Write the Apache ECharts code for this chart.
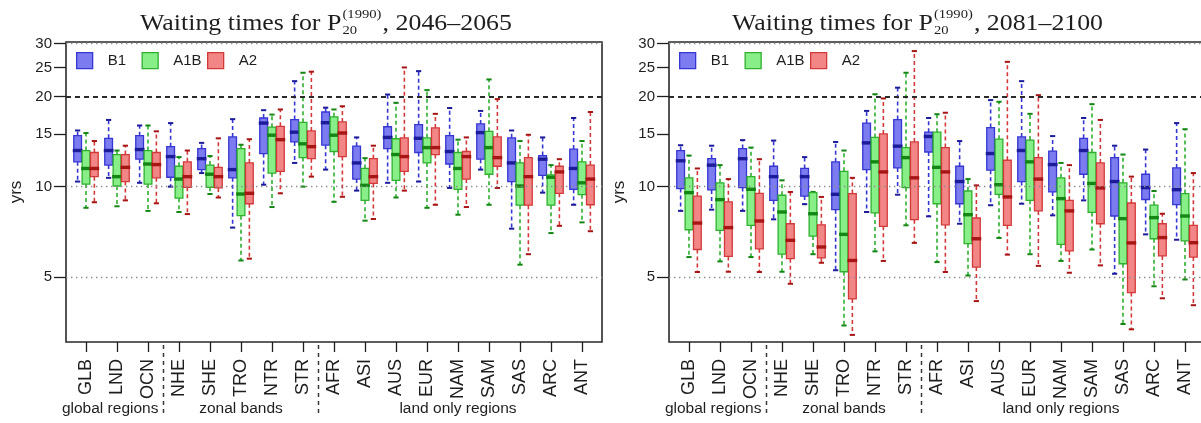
<!DOCTYPE html>
<html>
<head>
<meta charset="utf-8">
<script src="https://cdn.jsdelivr.net/npm/echarts@6/dist/echarts.min.js"></script>
<style>
  html, body { margin: 0; padding: 0; background: #ffffff; }
  #main { width: 1201px; height: 423px; }
</style>
</head>
<body>
<div id="main"></div>
<script>
// Regions (x categories), scenarios and y ticks
const regions = ['GLB', 'LND', 'OCN', 'NHE', 'SHE', 'TRO', 'NTR', 'STR', 'AFR',
                 'ASI', 'AUS', 'EUR', 'NAM', 'SAM', 'SAS', 'ARC', 'ANT'];
const scenarios = ['B1', 'A1B', 'A2'];
const yTicks = [5, 10, 15, 20, 25, 30];
const groupNames = ['global regions', 'zonal bands', 'land only regions'];
const groupCentres = [0.78, 5, 12];      // region index under each group caption
const groupBreaks = [2.5, 7.5];          // dashed separators between groups
const periods = ['2046–2065', '2081–2100'];

// Box statistics per region: [lower whisker, Q1, median, Q3, upper whisker] (years)
const b1Mid = [
  [10.4, 12.1, 13.2, 14.8, 15.4], [10.7, 11.8, 13.2, 14.5, 16.7], [10.3, 12.35, 13.3, 14.8, 16.0],
  [10.0, 10.75, 12.6, 13.6, 16.3], [11.1, 11.4, 12.4, 13.4, 14.0], [7.3, 10.7, 11.4, 14.65, 16.8],
  [10.15, 12.9, 16.3, 16.95, 18.0], [12.0, 14.1, 15.2, 16.75, 22.5], [11.4, 13.75, 16.35, 17.75, 18.35],
  [9.7, 10.6, 12.0, 13.65, 14.6], [10.3, 13.4, 14.6, 15.85, 20.3], [10.4, 13.0, 14.5, 16.1, 24.3],
  [9.9, 11.9, 13.1, 14.8, 18.3], [11.4, 12.35, 15.15, 16.2, 17.9], [7.24, 10.4, 12.0, 14.55, 15.4],
  [9.55, 10.9, 12.35, 12.7, 14.6], [8.7, 9.8, 11.5, 13.35, 16.95]
];
const a1bMid = [
  [8.5, 10.2, 11.5, 13.2, 15.1], [8.6, 10.05, 10.8, 12.8, 13.2], [8.3, 10.2, 11.9, 13.2, 16.0],
  [8.23, 9.15, 10.6, 11.7, 12.55], [9.45, 9.95, 11.0, 11.8, 12.65], [5.67, 8.0, 9.45, 13.4, 13.8],
  [8.55, 11.1, 14.85, 15.8, 17.4], [10.0, 12.5, 13.9, 16.4, 24.0], [8.9, 13.1, 14.85, 17.1, 18.1],
  [7.7, 9.0, 10.1, 11.5, 12.45], [9.2, 10.5, 12.8, 14.45, 19.05], [8.5, 12.0, 13.5, 14.55, 21.0],
  [8.06, 9.8, 11.5, 13.0, 14.35], [8.7, 11.0, 13.5, 15.3, 22.8], [5.49, 8.67, 10.05, 12.0, 14.2],
  [7.0, 8.67, 10.75, 10.95, 11.8], [7.6, 9.4, 10.3, 12.1, 14.2]
];
const a2Mid = [
  [8.87, 10.8, 11.5, 13.0, 14.2], [9.0, 10.4, 11.6, 12.8, 13.7], [8.8, 10.7, 11.85, 13.0, 15.3],
  [8.1, 9.95, 10.8, 12.1, 13.2], [9.2, 9.9, 10.8, 11.6, 14.5], [5.75, 8.77, 9.5, 12.0, 14.4],
  [9.5, 11.25, 14.35, 15.9, 18.1], [10.8, 12.4, 13.6, 15.35, 24.2], [9.25, 12.6, 15.1, 16.45, 18.55],
  [7.8, 10.25, 10.8, 12.4, 13.7], [9.7, 11.25, 12.6, 14.55, 25.0], [8.7, 12.8, 13.5, 15.7, 17.5],
  [8.55, 10.6, 12.6, 13.1, 14.6], [9.9, 11.7, 12.5, 14.65, 19.6], [5.95, 8.67, 10.8, 12.5, 14.9],
  [7.4, 9.5, 11.2, 11.7, 12.35], [7.1, 8.7, 10.6, 11.8, 17.75]
];
const b1End = [
  [8.3, 9.85, 12.2, 13.2, 13.75], [8.38, 9.75, 11.8, 12.4, 13.7], [8.3, 9.93, 12.4, 13.4, 14.3],
  [7.78, 9.0, 10.8, 11.7, 14.25], [8.74, 9.3, 10.8, 11.5, 12.55], [5.26, 8.38, 9.43, 12.1, 14.1],
  [8.23, 11.4, 14.0, 16.3, 17.9], [9.4, 11.55, 13.65, 16.75, 21.4], [7.96, 13.05, 14.7, 15.2, 16.95],
  [7.52, 8.77, 10.4, 11.7, 14.2], [8.67, 11.35, 12.9, 15.75, 19.45], [8.77, 10.4, 13.2, 14.65, 22.5],
  [8.02, 9.6, 11.85, 13.15, 14.75], [9.0, 11.0, 13.2, 14.5, 16.95], [5.12, 7.98, 10.4, 12.5, 13.7],
  [6.93, 9.06, 9.93, 11.0, 13.3], [6.65, 8.71, 9.77, 11.55, 16.3]
];
const a1bEnd = [
  [5.82, 7.18, 9.55, 10.7, 12.7], [5.63, 7.15, 9.05, 10.3, 11.8], [5.82, 7.43, 9.8, 10.8, 13.5],
  [5.2, 5.95, 8.23, 9.36, 10.5], [5.95, 6.84, 8.12, 9.55, 9.6], [3.44, 5.2, 6.93, 11.25, 13.2],
  [6.08, 8.17, 12.1, 14.6, 20.35], [7.43, 9.93, 12.5, 13.5, 24.0], [5.6, 8.77, 11.6, 15.2, 17.45],
  [5.05, 6.45, 8.06, 9.67, 10.6], [6.74, 9.43, 10.15, 14.4, 19.2], [5.95, 9.0, 12.1, 14.3, 17.5],
  [5.65, 6.42, 9.12, 10.7, 12.0], [6.17, 8.2, 10.25, 13.0, 18.85], [3.48, 5.53, 7.82, 10.3, 12.8],
  [4.65, 6.7, 7.88, 8.67, 9.67], [4.9, 6.59, 7.98, 9.48, 15.55]
];
const a2End = [
  [5.19, 6.17, 7.56, 9.3, 11.5], [5.2, 5.85, 7.3, 8.9, 10.6], [5.19, 6.2, 7.68, 9.5, 12.35],
  [4.74, 5.75, 6.62, 7.52, 9.6], [5.57, 5.78, 6.29, 7.46, 9.24], [3.2, 4.22, 5.67, 9.48, 10.7],
  [5.65, 7.37, 11.2, 15.0, 19.7], [6.49, 7.76, 10.7, 14.1, 28.35], [5.19, 7.46, 11.2, 13.5, 17.65],
  [4.15, 5.39, 6.7, 7.86, 10.1], [5.93, 7.43, 9.24, 12.25, 26.1], [5.44, 8.3, 10.6, 12.5, 20.2],
  [5.16, 6.1, 8.3, 9.0, 11.8], [5.46, 7.52, 9.9, 12.0, 16.7], [3.34, 4.43, 6.49, 8.82, 10.8],
  [4.24, 5.87, 6.76, 7.52, 8.12], [4.02, 5.82, 6.5, 7.43, 11.1]
];

const panelValues = [[b1Mid, a1bMid, a2Mid], [b1End, a1bEnd, a2End]];

// ---- layout & style ----
const SANS = '"Liberation Sans", Arial, sans-serif';
const SERIF = '"Liberation Serif", "Times New Roman", serif';
const INK = '#1e1e1e';
const GRID_LEFT = [66, 669];
const GRID_TOP = 42, GRID_W = 536, GRID_H = 300;
const TITLE_SPAN = [[140, 512], [732, 1103]];
const LEGEND_STEP = 65.5;
const X_PAD = 0.645;
const OFFSETS = [-0.27, 0, 0.27];
const BOX_W = 0.25;
const palette = {
  B1:  { fill: '#7c7cf0', line: '#3636d2', median: '#1c1c9a' },
  A1B: { fill: '#88ee88', line: '#2fb02f', median: '#138613' },
  A2:  { fill: '#f28686', line: '#d23a3a', median: '#a81515' }
};

function boxRenderer(offset, col) {
  return function (params, api) {
    const xc = api.value(0) + offset;
    const lo = api.coord([xc, api.value(1)]);
    const q1 = api.coord([xc, api.value(2)]);
    const md = api.coord([xc, api.value(3)]);
    const q3 = api.coord([xc, api.value(4)]);
    const hi = api.coord([xc, api.value(5)]);
    const xl = api.coord([xc - BOX_W / 2, api.value(3)])[0];
    const xr = api.coord([xc + BOX_W / 2, api.value(3)])[0];
    const x = md[0];
    const cap = 2.6;
    const dash = { stroke: col.line, lineWidth: 1.6, lineDash: [4, 3] };
    const staple = { stroke: col.median, lineWidth: 2 };
    return {
      type: 'group',
      children: [
        { type: 'line', shape: { x1: x, y1: q1[1], x2: x, y2: lo[1] }, style: dash },
        { type: 'line', shape: { x1: x, y1: q3[1], x2: x, y2: hi[1] }, style: dash },
        { type: 'line', shape: { x1: x - cap, y1: lo[1], x2: x + cap, y2: lo[1] }, style: staple },
        { type: 'line', shape: { x1: x - cap, y1: hi[1], x2: x + cap, y2: hi[1] }, style: staple },
        { type: 'rect', shape: { x: xl, y: q3[1], width: xr - xl, height: q1[1] - q3[1] },
          style: { fill: col.fill, stroke: col.line, lineWidth: 1.3 } },
        { type: 'line', shape: { x1: xl - 1, y1: md[1], x2: xr + 1, y2: md[1] },
          style: { stroke: col.median, lineWidth: 3.4 } }
      ]
    };
  };
}

const refLines = {
  silent: true,
  symbol: 'none',
  label: { show: false },
  data: [
    { yAxis: 30, lineStyle: { color: '#8c8c8c', width: 1.4, type: [1.4, 3.6] } },
    { yAxis: 10, lineStyle: { color: '#8c8c8c', width: 1.4, type: [1.4, 3.6] } },
    { yAxis: 5,  lineStyle: { color: '#8c8c8c', width: 1.4, type: [1.4, 3.6] } },
    { yAxis: 20, lineStyle: { color: '#2a2a2a', width: 1.8, type: [5, 4] } }
  ]
};

const grids = [], xAxes = [], yAxes = [], series = [], legends = [];
const xTickValues = regions.map((r, i) => i);

[0, 1].forEach(p => {
  grids.push({
    left: GRID_LEFT[p], top: GRID_TOP, width: GRID_W, height: GRID_H,
    show: true, borderColor: '#2a2a2a', borderWidth: 1.6, backgroundColor: 'transparent',
    outerBoundsMode: 'none'
  });
  xAxes.push({
    type: 'value', gridIndex: p, min: -X_PAD, max: regions.length - 1 + X_PAD,
    axisLine: { show: false, onZero: false },
    splitLine: { show: false },
    axisTick: { show: true, inside: false, customValues: xTickValues, length: 10,
                lineStyle: { color: INK, width: 1.3 } },
    axisLabel: {
      customValues: xTickValues, rotate: 90, margin: 17,
      fontFamily: SANS, fontSize: 18, color: INK,
      formatter: v => regions[Math.round(v)]
    }
  });
  yAxes.push({
    type: 'log', logBase: 10, gridIndex: p, min: 3.03, max: 30.4, position: 'left',
    name: 'yrs', nameLocation: 'middle', nameRotate: 90, nameGap: 41,
    nameTextStyle: { fontFamily: SANS, fontSize: 17, color: INK },
    axisLine: { show: false, onZero: false },
    splitLine: { show: false },
    axisTick: { show: true, inside: false, customValues: yTicks, length: 12,
                lineStyle: { color: INK, width: 1.3 } },
    axisLabel: {
      customValues: yTicks, margin: 14,
      fontFamily: SANS, fontSize: 15, color: INK,
      formatter: v => String(Math.round(v))
    }
  });
  scenarios.forEach((name, s) => {
    const col = palette[name];
    series.push({
      type: 'custom', name: name, xAxisIndex: p, yAxisIndex: p,
      silent: true,
      itemStyle: { color: col.fill, borderColor: col.line },
      data: regions.map((r, i) => [i].concat(panelValues[p][s][i])),
      encode: { x: 0, y: [1, 2, 3, 4, 5] },
      renderItem: boxRenderer(OFFSETS[s], col),
      markLine: s === 0 ? refLines : undefined,
      z: 3
    });
    // one legend entry per scenario, laid out in equal-width columns
    legends.push({
      left: GRID_LEFT[p] + 10 + s * LEGEND_STEP, top: 52, padding: 0,
      itemWidth: 16, itemHeight: 16,
      selectedMode: false,
      icon: 'rect',
      textStyle: { fontFamily: SANS, fontSize: 15, color: INK, padding: [0, 0, 0, 10] },
      data: [{
        name: name,
        itemStyle: { color: col.fill, borderColor: col.line, borderWidth: 1.3 }
      }]
    });
  });
});

const chart = echarts.init(document.getElementById('main'), null, { renderer: 'canvas' });
chart.setOption({
  animation: false,
  backgroundColor: '#ffffff',
  textStyle: { fontFamily: SANS },
  grid: grids, xAxis: xAxes, yAxis: yAxes, legend: legends, series: series
});

// ---- titles, group captions and separators ----
const measure = document.createElement('canvas').getContext('2d');
function textWidth(str, size, family) {
  measure.font = size + 'px ' + family;
  return measure.measureText(str).width;
}

const graphics = [];
[0, 1].forEach(p => {
  // Title: "Waiting times for P_20^(1990), <period>"
  const MAIN = 23, SCRIPT = 13;
  const head = 'Waiting times for P';
  const sup = '(1990)', sub = '20';
  const tail = ', ' + periods[p];
  const wHead = textWidth(head, MAIN, SERIF);
  const wScript = Math.max(textWidth(sup, SCRIPT, SERIF), textWidth(sub, SCRIPT, SERIF));
  const wTail = textWidth(tail, MAIN, SERIF);
  const total = wHead + 1 + wScript + 1 + wTail;
  const span = TITLE_SPAN[p];
  const sx = (span[1] - span[0]) / total;
  // vertical centres of each run (main baseline ~31.5)
  const yMain = 24, ySup = 15, ySub = 30.5;
  const tStyle = (txt, size) => ({ text: txt, fontFamily: SERIF, fontSize: size, fill: INK,
                                   verticalAlign: 'middle', align: 'left' });
  graphics.push({
    type: 'group', x: span[0], y: 0, scaleX: sx, silent: true,
    children: [
      { type: 'text', x: 0, y: yMain, style: tStyle(head, MAIN) },
      { type: 'text', x: wHead + 1, y: ySup, style: tStyle(sup, SCRIPT) },
      { type: 'text', x: wHead + 1, y: ySub, style: tStyle(sub, SCRIPT) },
      { type: 'text', x: wHead + 1 + wScript + 1, y: yMain, style: tStyle(tail, MAIN) }
    ]
  });

  // Group captions under the region labels
  groupNames.forEach((g, k) => {
    const gx = chart.convertToPixel({ xAxisIndex: p }, groupCentres[k]);
    graphics.push({
      type: 'text', x: gx, y: 409, silent: true,
      style: { text: g, fontFamily: SANS, fontSize: 15.5, fill: INK,
               align: 'center', verticalAlign: 'middle' }
    });
  });

  // Dashed separators between groups
  groupBreaks.forEach(b => {
    const bx = chart.convertToPixel({ xAxisIndex: p }, b);
    graphics.push({
      type: 'line', silent: true,
      shape: { x1: bx, y1: GRID_TOP + GRID_H + 3, x2: bx, y2: GRID_TOP + GRID_H + 72 },
      style: { stroke: '#3a3a3a', lineWidth: 1.5, lineDash: [4, 4] }
    });
  });
});
chart.setOption({ graphic: graphics });
</script>
</body>
</html>
